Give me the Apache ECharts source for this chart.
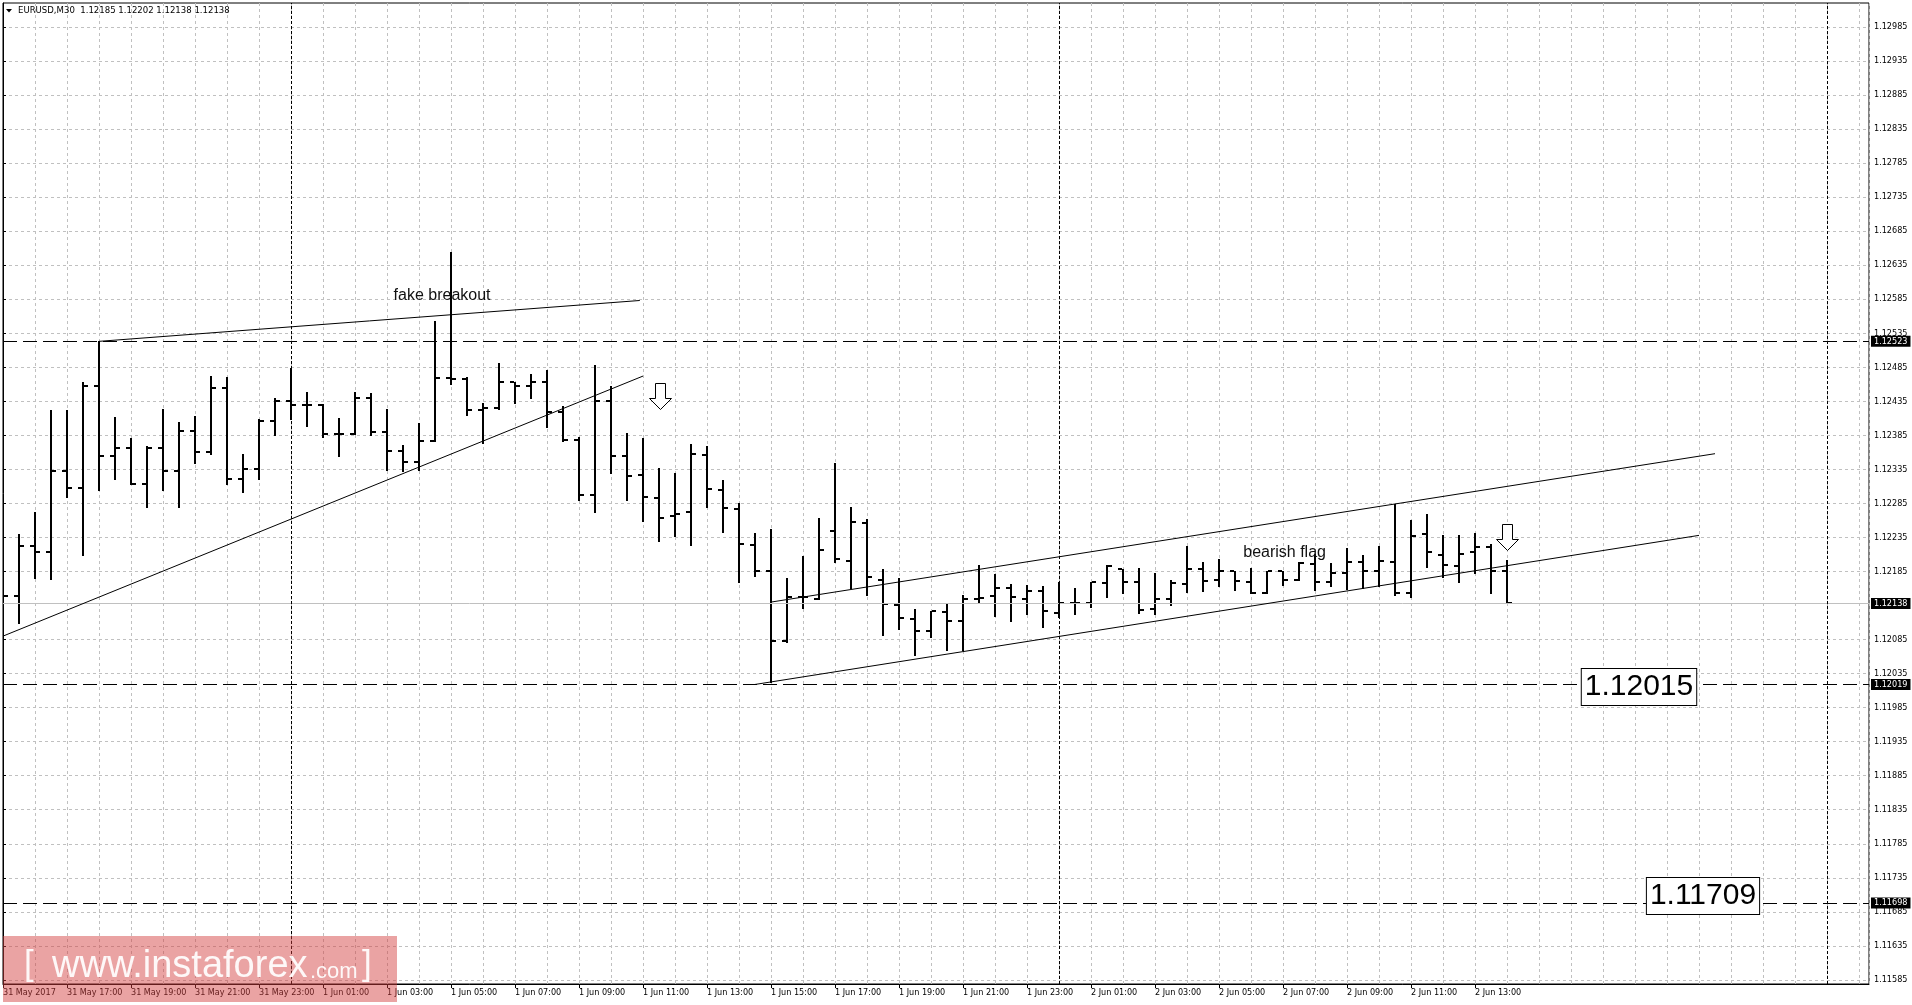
<!DOCTYPE html>
<html><head><meta charset="utf-8">
<script src="https://cdn.jsdelivr.net/npm/echarts@6/dist/echarts.min.js"></script>
<style>html,body{margin:0;padding:0;background:#fff;}#c{width:1912px;height:1005px;}</style>
</head><body><div id="c"></div>
<script>
// ---------- DATA ----------
const symbol = 'EURUSD,M30';
const opens = [1.12220,1.12149,1.12222,1.12213,1.12333,1.12307,1.12457,1.12355,1.12367,1.12313,
 1.12367,1.12333,1.12391,1.12360,1.12454,1.12321,1.12335,1.12406,1.12435,1.12429,
 1.12429,1.12387,1.12387,1.12440,1.12390,1.12362,1.12346,1.12376,1.12469,1.12467,
 1.12422,1.12425,1.12464,1.12457,1.12464,1.12419,1.12378,1.12297,1.12436,1.12354,
 1.12327,1.12293,1.12266,1.12272,1.12356,1.12304,1.12276,1.12224,1.12186,1.12083,
 1.12147,1.12145,1.12244,1.12201,1.12256,1.12173,1.12136,1.12115,1.12098,1.12125,
 1.12112,1.12145,1.12149,1.12160,1.12145,1.12156,1.12124,1.12139,1.12139,1.12168,
 1.12188,1.12170,1.12130,1.12144,1.12167,1.12188,1.12172,1.12185,1.12169,1.12154,
 1.12185,1.12173,1.12196,1.12170,1.12183,1.12199,1.12185,1.12199,1.12153,1.12240,
 1.12209,1.12193,1.12213,1.12221,1.12185];
const highs = [1.12252,1.12240,1.12272,1.12422,1.12422,1.12464,1.12523,1.12412,1.12381,1.12369,
 1.12423,1.12405,1.12413,1.12472,1.12470,1.12357,1.12409,1.12440,1.12484,1.12449,
 1.12431,1.12410,1.12449,1.12447,1.12423,1.12371,1.12403,1.12553,1.12654,1.12471,
 1.12432,1.12491,1.12464,1.12475,1.12481,1.12428,1.12382,1.12488,1.12458,1.12388,
 1.12381,1.12337,1.12329,1.12372,1.12369,1.12320,1.12285,1.12242,1.12248,1.12175,
 1.12208,1.12264,1.12345,1.12279,1.12262,1.12189,1.12176,1.12130,1.12127,1.12137,
 1.12151,1.12194,1.12181,1.12166,1.12165,1.12164,1.12170,1.12160,1.12169,1.12194,
 1.12189,1.12190,1.12182,1.12173,1.12222,1.12199,1.12203,1.12186,1.12190,1.12186,
 1.12186,1.12199,1.12210,1.12197,1.12220,1.12209,1.12222,1.12284,1.12261,1.12269,
 1.12238,1.12238,1.12242,1.12226,1.12202];
const lows = [1.12145,1.12109,1.12176,1.12174,1.12295,1.12209,1.12305,1.12321,1.12313,1.12280,
 1.12305,1.12280,1.12345,1.12357,1.12313,1.12301,1.12321,1.12386,1.12409,1.12399,
 1.12383,1.12355,1.12387,1.12386,1.12334,1.12333,1.12334,1.12376,1.12461,1.12415,
 1.12373,1.12423,1.12433,1.12440,1.12397,1.12376,1.12290,1.12273,1.12329,1.12290,
 1.12259,1.12230,1.12237,1.12224,1.12279,1.12243,1.12170,1.12178,1.12023,1.12082,
 1.12132,1.12144,1.12199,1.12160,1.12150,1.12091,1.12100,1.12063,1.12088,1.12069,
 1.12069,1.12139,1.12120,1.12112,1.12122,1.12104,1.12118,1.12122,1.12133,1.12148,
 1.12153,1.12124,1.12122,1.12135,1.12155,1.12156,1.12164,1.12158,1.12153,1.12154,
 1.12165,1.12173,1.12158,1.12163,1.12159,1.12161,1.12164,1.12150,1.12147,1.12191,
 1.12177,1.12169,1.12182,1.12154,1.12138];
const closes = [1.12149,1.12222,1.12213,1.12333,1.12307,1.12457,1.12355,1.12367,1.12313,1.12367,
 1.12333,1.12391,1.12360,1.12454,1.12321,1.12335,1.12406,1.12435,1.12429,1.12429,
 1.12387,1.12387,1.12440,1.12390,1.12362,1.12346,1.12376,1.12469,1.12467,1.12422,
 1.12425,1.12464,1.12457,1.12464,1.12419,1.12378,1.12297,1.12436,1.12354,1.12325,
 1.12294,1.12264,1.12269,1.12358,1.12306,1.12278,1.12225,1.12185,1.12083,1.12147,
 1.12148,1.12216,1.12204,1.12258,1.12177,1.12137,1.12116,1.12098,1.12127,1.12112,
 1.12144,1.12146,1.12160,1.12147,1.12156,1.12127,1.12139,1.12138,1.12169,1.12193,
 1.12169,1.12128,1.12144,1.12168,1.12188,1.12171,1.12185,1.12171,1.12153,1.12185,
 1.12172,1.12198,1.12170,1.12183,1.12199,1.12186,1.12200,1.12153,1.12237,1.12213,
 1.12195,1.12211,1.12221,1.12186,1.12138];

const timeTickBars = [0,4,8,12,16,20,24,28,32,36,40,44,48,52,56,60,64,68,72,76,80,84,88,92];
const timeTickLabels = ['31 May 2017','31 May 17:00','31 May 19:00','31 May 21:00','31 May 23:00',
 '1 Jun 01:00','1 Jun 03:00','1 Jun 05:00','1 Jun 07:00','1 Jun 09:00','1 Jun 11:00','1 Jun 13:00',
 '1 Jun 15:00','1 Jun 17:00','1 Jun 19:00','1 Jun 21:00','1 Jun 23:00','2 Jun 01:00','2 Jun 03:00',
 '2 Jun 05:00','2 Jun 07:00','2 Jun 09:00','2 Jun 11:00','2 Jun 13:00'];
const priceTicks = [1.11585,1.11635,1.11685,1.11735,1.11785,1.11835,1.11885,1.11935,1.11985,1.12035,
 1.12085,1.12185,1.12235,1.12285,1.12335,1.12385,1.12435,1.12485,1.12535,1.12585,
 1.12635,1.12685,1.12735,1.12785,1.12835,1.12885,1.12935,1.12985];

const levelLines = [1.12523, 1.12019, 1.11698];
const currentPrice = 1.12138;
const daySeparators = [18, 66, 114];
const trendLines = [
  [[6, 1.12523], [39.8, 1.12583]],
  [[0, 1.12090], [40, 1.12472]],
  [[48, 1.12140], [107, 1.12358]],
  [[47, 1.12019], [106, 1.12238]]
];
const noteBars = [27.44, 80.1];
const notePrices = [1.12590, 1.12212];
const noteTexts = ['fake breakout', 'bearish flag'];
const boxBars = [102.25, 106.25];
const boxPrices = [1.12015, 1.11708];
const boxTexts = ['1.12015', '1.11709'];
const arrowBars = [41.04, 94.0];
const arrowPrices = [1.12424, 1.12217];

// ---------- CHART ----------
const F = "'DejaVu Sans Condensed','Liberation Sans',Arial,sans-serif";
const chart = echarts.init(document.getElementById('c'), null, {renderer: 'canvas'});
const n = opens.length;
const ohlc = opens.map((o, i) => [i, o, highs[i], lows[i], closes[i]]);

const boxLabel = {show: true, position: 'end', distance: 2, color: '#fff', backgroundColor: '#000',
  padding: [1, 3, 1, 3], fontSize: 9, fontFamily: F, formatter: p => Number(p.value).toFixed(5)};

const markData = [];
levelLines.forEach(v => markData.push({yAxis: v, lineStyle: {color: '#000', type: [14, 6], width: 1}, label: boxLabel}));
markData.push({yAxis: currentPrice, lineStyle: {color: '#c0c0c0', type: 'solid', width: 1}, label: boxLabel});
daySeparators.forEach(v => markData.push({xAxis: v, lineStyle: {color: '#000', type: [3, 2], width: 1}, label: {show: false}}));
trendLines.forEach(t => markData.push([
  {coord: t[0], lineStyle: {color: '#000', type: 'solid', width: 1}, label: {show: false}},
  {coord: t[1]}
]));

const header = symbol + '  ' + [opens[n-1], highs[n-1], lows[n-1], closes[n-1]].map(v => v.toFixed(5)).join(' ');

const option = {
  animation: false,
  backgroundColor: '#fff',
  grid: {left: 3, right: 43, top: 3, bottom: 21, show: true, borderColor: '#000', borderWidth: 1, backgroundColor: '#fff'},
  xAxis: [
    {type: 'value', min: 0, max: 116.625, position: 'bottom',
     axisLine: {show: true, onZero: false, lineStyle: {color: '#000', width: 1}},
     axisTick: {show: true, length: 4, customValues: timeTickBars, lineStyle: {color: '#000'}},
     axisLabel: {show: true, customValues: timeTickBars,
       formatter: v => timeTickLabels[timeTickBars.indexOf(Math.round(v))] || '',
       align: 'left', margin: 4, fontSize: 9, fontFamily: F, color: '#000'},
     splitLine: {show: false}},
    {type: 'value', min: 0, max: 116.625, interval: 2, position: 'top',
     axisLine: {show: false}, axisTick: {show: false}, axisLabel: {show: false},
     splitLine: {show: true, lineStyle: {color: '#c0c0c0', type: [3, 3], width: 1}}}
  ],
  yAxis: {
    type: 'value', position: 'right', min: 1.11579, max: 1.1302,
    axisLine: {show: true, lineStyle: {color: '#000', width: 1}},
    axisTick: {show: true, length: 3, customValues: priceTicks, lineStyle: {color: '#000'}},
    axisLabel: {show: true, customValues: priceTicks, formatter: v => Number(v).toFixed(5),
      margin: 5, fontSize: 9, fontFamily: F, color: '#000'},
    splitLine: {show: true, lineStyle: {color: '#c0c0c0', type: [3, 3], width: 1}}
  },
  graphic: [
    {type: 'polygon', z: 10, shape: {points: [[6, 9], [12, 9], [9, 12.5]]}, style: {fill: '#000'}},
    {type: 'text', z: 10, x: 18, y: 11, style: {text: header, font: '9.5px ' + F, fill: '#000', verticalAlign: 'middle'}},
    {type: 'rect', z: 100, shape: {x: 3, y: 936, width: 394, height: 66}, style: {fill: 'rgba(210,60,60,0.47)'}},
    {type: 'text', z: 101, x: 24, y: 965.5, style: {text: '[', font: '35px "Liberation Sans", Arial, sans-serif', fill: 'rgba(255,255,255,0.92)', verticalAlign: 'middle'}},
    {type: 'text', z: 101, x: 52, y: 966.8, style: {text: 'www.instaforex', font: '38px "Liberation Sans", Arial, sans-serif', fill: 'rgba(255,255,255,0.92)', verticalAlign: 'middle'}},
    {type: 'text', z: 101, x: 310, y: 972.4, style: {text: '.com', font: '22px "Liberation Sans", Arial, sans-serif', fill: 'rgba(255,255,255,0.92)', verticalAlign: 'middle'}},
    {type: 'text', z: 101, x: 362, y: 965.5, style: {text: ']', font: '35px "Liberation Sans", Arial, sans-serif', fill: 'rgba(255,255,255,0.92)', verticalAlign: 'middle'}}
  ],
  series: [
    {
      type: 'custom', name: 'bars', xAxisIndex: 0, yAxisIndex: 0, clip: true, silent: true,
      data: ohlc, encode: {x: 0, y: [1, 2, 3, 4]},
      renderItem: (params, api) => {
        const i = api.value(0);
        const pO = api.coord([i, api.value(1)]);
        const pH = api.coord([i, api.value(2)]);
        const pL = api.coord([i, api.value(3)]);
        const pC = api.coord([i, api.value(4)]);
        const cx = Math.round(pH[0]);
        const yH = Math.round(pH[1]), yL = Math.round(pL[1]);
        const yO = Math.round(pO[1]), yC = Math.round(pC[1]);
        return {type: 'group', children: [
          {type: 'rect', shape: {x: cx - 1, y: yH, width: 2, height: Math.max(1, yL - yH + 1)}, style: {fill: '#000'}},
          {type: 'rect', shape: {x: cx - 5, y: yO - 1, width: 4, height: 2}, style: {fill: '#000'}},
          {type: 'rect', shape: {x: cx + 1, y: yC - 1, width: 4, height: 2}, style: {fill: '#000'}}
        ]};
      }
    },
    {
      type: 'custom', name: 'arrows', xAxisIndex: 0, yAxisIndex: 0, clip: false, silent: true, z: 5,
      data: arrowBars.map((b, i) => [b, arrowPrices[i]]), encode: {x: 0, y: 1},
      renderItem: (params, api) => {
        const c = api.coord([api.value(0), api.value(1)]);
        const x = Math.round(c[0]) + 0.5, y = Math.round(c[1]) + 0.5;
        return {type: 'polygon', shape: {points: [[x - 5, y - 26], [x + 5, y - 26], [x + 5, y - 11], [x + 11, y - 11], [x, y], [x - 11, y - 11], [x - 5, y - 11]]},
          style: {fill: '#fff', stroke: '#000', lineWidth: 1}};
      },
      markLine: {silent: true, precision: 6, symbol: ['none', 'none'], animation: false, emphasis: {disabled: true}, data: markData}
    },
    {
      type: 'custom', name: 'notes', xAxisIndex: 0, yAxisIndex: 0, clip: false, silent: true, z: 6,
      data: noteBars.map((b, i) => [b, notePrices[i]]), encode: {x: 0, y: 1},
      renderItem: (params, api) => {
        const c = api.coord([api.value(0), api.value(1)]);
        return {type: 'text', x: c[0], y: c[1], style: {text: noteTexts[params.dataIndex], fill: '#111',
          font: '16px "Liberation Sans", Arial, sans-serif', align: 'center', verticalAlign: 'middle'}};
      }
    },
    {
      type: 'custom', name: 'boxes', xAxisIndex: 0, yAxisIndex: 0, clip: false, silent: true, z: 7,
      data: boxBars.map((b, i) => [b, boxPrices[i]]), encode: {x: 0, y: 1},
      renderItem: (params, api) => {
        const c = api.coord([api.value(0), api.value(1)]);
        return {type: 'text', x: Math.round(c[0]), y: Math.round(c[1]), style: {text: boxTexts[params.dataIndex], fill: '#000',
          font: '30px "Liberation Sans", Arial, sans-serif', align: 'center', verticalAlign: 'middle',
          backgroundColor: '#fff', borderColor: '#000', borderWidth: 1, padding: [3, 3, 3, 3]}};
      }
    }
  ]
};
chart.setOption(option);
</script>
</body></html>
